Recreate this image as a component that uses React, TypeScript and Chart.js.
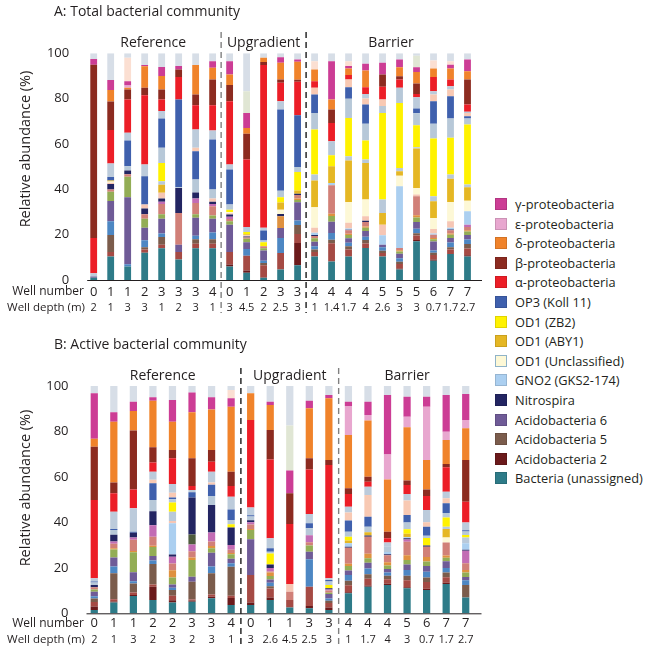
import { useEffect, useRef } from "react";
import { Chart, registerables } from "chart.js";
Chart.register(...registerables);

// ---------- categories ----------
const wellA = ["0","1","1","2","3","3","3","4","0","1","2","3","3","4","4","4","4","5","5","5","6","7","7"];
const depthA = ["2","1","3","3","1","2","3","1","3","4.5","2","2.5","3","1","1.4","1.7","4","2.6","3","3","0.7","1.7","2.7"];
const wellB = ["0","1","1","2","2","3","3","4","0","1","1","3","3","4","4","4","5","6","7","7"];
const depthB = ["2","1","3","2","3","2","3","1","3","2.6","4.5","2.5","3","1","1.7","4","3","0.7","1.7","2.7"];
const groupNames = ["Reference", "Upgradient", "Barrier"];
const groupEndsA = [7, 12, 22];
const groupEndsB = [7, 12, 19];
const yTicks = [0, 20, 40, 60, 80, 100];

// ---------- A: Total bacterial community (bottom -> top) ----------
const A_bact = [1,10.4,6,12,14,9,14,14,6,3.2,1,4.6,6.5,10.4,8.2,10.4,14.1,10.4,4.6,17.1,8.5,11.5,10.4];
const A_ac2 = [0,0,0,0,0,0,0,0,0.8,1,0,0,9.8,0,0,0,0,0,0.5,0.5,0.5,0,0.5];
const A_brick = [0,2,0,1.5,1.5,3.4,2,2,5.6,6.5,5.5,7.3,4,2,8,3,2,1.5,2,2,2,2,3];
const A_ac5 = [0,7.5,0,1,3.5,0,2,2,0,0,1,0,4,1,1.5,1.5,1.5,1,1,1,1,1,2];
const A_steel = [0,6,1,3,1.5,0,1.5,3,0,3,1,6.6,2,1.5,3,1.5,1.5,1.5,1.5,2,1,2,2];
const A_ac6 = [0.5,9,29.5,5.5,6.5,3.2,8,6,12,3,4.5,4.4,8,2,5,2,2.5,1.2,2,3,4,2,2];
const A_olive = [0,4,9,4,2,0,1.5,1.5,1.5,1.5,1,0,1,1.5,2.5,1.5,1.5,0,1,2,1,1.5,1.5];
const A_orangeLow = [0,0,0,0,0,0,0,0,0,0,0,5.2,0.7,0,1,0.5,0.5,0,0.5,1,0.5,0.5,0.5];
const A_salmon = [0,1,1.2,2,4.5,14,5,4,1,0.5,0.9,0,1.5,1,12.6,1.5,2,0,1,8.3,1.5,1.5,1.5];
const A_orchid = [0,0,0,0,1,0,2,1,1,0,0,0,0,0,0,0,0,0,0,0,0,0,1];
const A_darkOlive = [0,0,0,0,0,0,0,0,0,0,0,0,0,0,0,0,0,0,0,0,0,0,0];
const A_nitro = [0,2.5,1.6,2.5,1.5,11,2.6,1,1,0.5,0,1,0.5,0.5,0,0.3,0.5,0,0,0,0,0.3,0];
const A_gno2 = [0,0,0,0,0,0,0,0,0,0,0,0,0,0.9,1,0.5,0,4.1,27.3,0,0.5,0.7,5.9];
const A_peachLow = [0,0.5,0,1.8,2.5,0,0,1.5,0.5,0.5,0,0,0,2.2,0,2.5,2,4.7,0,0.8,2,2.9,0];
const A_od1u = [0,0.5,0,0,0,0,0,0,0.6,0,0,1.9,0,9.1,0,9.2,7.4,0,4.6,2.9,4.9,8.5,4.7];
const A_aby1 = [0,0.5,0,0,3.5,0,0,0,0,0.5,0,3.2,1.5,11.8,7.4,18.3,16.1,5.2,2,17.4,7.3,10.3,5.9];
const A_greyMid = [0,0,0,0,1.6,0,0,0,0,0,0,0,0,2.6,0,1.9,1.5,5.9,1.4,0.6,2.2,1.8,1.2];
const A_zb2 = [0,0,0,0,8,0,0,0,1,1,1.7,2.3,8.1,19.9,4.8,16.9,8.4,38.2,28.7,9.7,25.5,16.2,26.5];
const A_greyLow = [0,0,1.9,0,6.7,0.3,5.7,3.9,2.3,2.2,0.8,2.9,2.3,7.3,6.2,8.5,7.4,3,6.7,5.3,6.5,8.5,2.6];
const A_op3 = [0,1.5,11.3,12.5,12.9,38.7,12.5,22.1,15.4,0,4.4,35.8,22.8,8.1,0,5,8.5,0,0,2,10,9.9,1];
const A_peach = [0,0,0,0,0,0,1.5,0,0,0,0,0,0,3,0,3.4,2.7,2.9,0,0,2.9,2.9,1.5];
const A_greyblue = [1.5,6,3.5,5.2,3.3,0,8.1,4,2.2,0,1.2,3.7,0,0,0,0,1.9,0,0,5,1.5,1.5,0.5];
const A_alpha = [15.5,14.8,14.6,30.5,5.1,9.9,10.7,11.1,28,29.7,71.8,8.1,14.8,2.9,8.1,2,3,5.6,3.6,1.5,6.2,2.9,3.2];
const A_beta = [76.5,12.5,4.4,3.3,4.4,3.4,4.7,11.3,7.1,11.4,1.4,1.4,0.8,0,5.9,0,0,5.5,1.5,4.6,0,0,11];
const A_delta = [0,5.1,0.8,9.5,6,0,13,5.2,4.6,2.6,1.8,7.4,8,5.2,4.4,2.9,7.4,0,4,5.1,3.8,4.9,3.7];
const A_eps = [0,0,1,0,0,0,0,0,0,0,0,0,0,0,0,0,0,0,0,0,0,0,0];
const A_gamma = [2.5,4.4,1.9,0.5,4,1.5,0,2.9,5.9,6.6,0,2.5,1,0,16.9,1.1,3,5.1,3.4,2.1,0,1.7,5.2];
const A_greygreen = [0,0,0,0,0,0,0,0,0,9.6,0,0,0,0,0,0,0,0,0,5,0,0,0];
const A_peachTop = [0,0,10.3,0,0,0,0,0,0,0,0,0,0,3.6,0,2.1,0,0,0,0,3.5,1.5,0];
const A_top = [2.5,11.8,2,5.2,6,5.6,5.2,3.5,3.5,16.7,2,1.7,2.7,3.5,3.5,3.5,4.6,4.2,2.7,1.1,3.2,3.5,2.7];

// ---------- B: Active bacterial community (bottom -> top) ----------
const B_bact = [1.5,4.7,7.6,5.9,4.7,5.1,6.6,3.7,3.7,5.9,2.6,2.2,1.5,8.8,11.7,12.5,11,10.3,12.9,7];
const B_ac2 = [1.5,0.5,0.5,5.8,1,0.5,0.7,3,1,1,0,1,1,0.5,0.5,0.5,0.5,0.5,0.5,0];
const B_brick = [2,1,1,1,2,0.5,1,1,12.2,4,3.3,8.5,2,3,3,2,3,3,2.5,0];
const B_ac5 = [1.5,11.4,4,9,2.5,7.8,9.3,12.8,0,1,0,0,1,2,2,1.5,2,2,2,5.5];
const B_steel = [1,3,1,1.5,1,0,3,1.5,0,1.5,0,12.1,1,2.5,2.5,1.5,2.5,2.5,2,2];
const B_ac6 = [2,4,4,2,1.5,2.2,6,2,15.7,1.5,0,3.3,2,2,2.5,1.5,2.5,2.5,3,1.5];
const B_olive = [1,3.5,8.8,4,3,7.4,2,2,4,1.5,0,2.7,0.5,2,2,1.5,2,2,1.5,2];
const B_orangeLow = [0,0.5,0.5,0.5,3.2,1,1,0.5,0.5,1.5,0,0,0,1,2,1.5,2,2,1,1];
const B_salmon = [1,2,5,4,3,2.8,2,1.5,2,0.5,3.6,1.5,1,7,7.5,3,6,4.5,5.7,3];
const B_orchid = [0,1,1,5,3,3,4,2,1,1.5,0,3,0.5,0,0,0,1,0,0,5.5];
const B_darkOlive = [0,0,0,0,0,4.4,0,0,0,0,0,0,0,0,0,0,0,0,0,0];
const B_nitro = [1,3,2,6.2,1,16.3,12,7.8,0.8,1.6,0,0,0.5,0.5,0.5,0.5,0.5,0.5,0,0.5];
const B_gno2 = [0,0,0,0,13.7,0,0,0,0,0,0,0,0,1.5,0,1,0.5,0,0,2.8];
const B_peachLow = [0,0,0,0,1,0,0,0,0,0,3.4,0,0,0,0,0,0,0,0,0];
const B_od1u = [0,0,0,0,0,0,0,0,0,0,0,0,0,0,0,0,0,0,2.3,0];
const B_aby1 = [0,0,0,0,0,0,0,0,0,0,0,0,0,1.2,1.5,0,1.5,0,3.7,0];
const B_greyMid = [0,0,0,0,4.1,0,0,0,0,0,0,0,0,0,0,0,0,0,1,2.6];
const B_zb2 = [0,0,0,0,4,0,0,1.4,0,4.8,0,0,1.5,1.7,0,0,2,3.3,4.1,1.1];
const B_greyLow = [1,2,0,5,1.5,0,4,1.8,1.7,0.8,0,3.1,1.5,2.2,2.4,2.5,2.9,1,1.9,1.5];
const B_op3 = [0.5,0.5,0.5,7.3,0.8,2.3,5,4.7,0.5,1.5,0,2.2,0.6,4.9,4.4,0,3.4,4,4.3,0.5];
const B_peach = [0,0,0,1.5,2,0,1,0,0,0,0,0,0,3.5,9.6,0,6.3,2,2.2,0];
const B_greyblue = [1.4,7.6,10.3,3.6,3.9,1,4.7,5.6,3.5,4.4,0,4.1,0.8,2.6,3.6,1.6,2.9,5.4,2.9,3.4];
const B_alpha = [34.5,8.1,8.3,4,11.3,1.7,4.4,4.7,38.4,34.7,26.4,19.6,49.8,5.6,2.2,1.9,4,6.1,10.7,9.2];
const B_beta = [23.4,4.7,25.9,6.7,3.6,12.2,5.1,6.3,0,12.9,13.5,4.9,2.2,2.5,2.2,2.9,1.9,2.9,1.5,18.3];
const B_delta = [3.5,26.8,8.6,20.5,12.5,20.2,17.9,28.6,11.8,11,0,22,27.2,23.4,24.7,23,23.4,12.9,10.5,14];
const B_eps = [0,0,0,0,0,0,0,0,0,0,0,0,0,12.8,2.4,11,4.7,23.5,3.7,3.6];
const B_gamma = [20,4.2,4.1,1.5,9.5,8.7,5.3,3.7,0,1.5,10,3.3,1.4,1.9,5.9,26.1,8.8,4.4,16.1,11.5];
const B_greygreen = [0,0,0,0,0,0,0,0,0,0,19.8,0,0,0,0,0,0,0,0,0];
const B_peachTop = [0,0,0,0,0,0,0,3.6,0,0,0,0,0,0,0,0,0,0,0,0];
const B_top = [3.2,11.5,6.9,5,6.2,2.9,5,1.8,3.2,6.9,17.4,6.5,4,6.9,6.9,4,4.7,4.7,4,3.5];

// ---------- series styling (bottom -> top) ----------
const SERIES = [
  { key: "bact", label: "Bacteria (unassigned)", color: "#2e7b88" },
  { key: "ac2", label: "Acidobacteria 2", color: "#6b1a1b" },
  { key: "brick", label: "Other", color: "#a54a44" },
  { key: "ac5", label: "Acidobacteria 5", color: "#7b5c4c" },
  { key: "steel", label: "Other", color: "#4d87c3" },
  { key: "ac6", label: "Acidobacteria 6", color: "#6f5b97" },
  { key: "olive", label: "Other", color: "#93ad55" },
  { key: "orangeLow", label: "Other", color: "#df913f" },
  { key: "salmon", label: "Other", color: "#d18078" },
  { key: "orchid", label: "Other", color: "#c26cb4" },
  { key: "darkOlive", label: "Other", color: "#4f5c3e" },
  { key: "nitro", label: "Nitrospira", color: "#232562" },
  { key: "gno2", label: "GNO2 (GKS2-174)", color: "#abcff0" },
  { key: "peachLow", label: "Other", color: "#f6c6b4" },
  { key: "od1u", label: "OD1 (Unclassified)", color: "#fdf8d6" },
  { key: "aby1", label: "OD1 (ABY1)", color: "#e5b724" },
  { key: "greyMid", label: "Other", color: "#b9c9da" },
  { key: "zb2", label: "OD1 (ZB2)", color: "#fff200" },
  { key: "greyLow", label: "Other", color: "#b7c8d8" },
  { key: "op3", label: "OP3 (Koll 11)", color: "#3f60ad" },
  { key: "peach", label: "Other", color: "#f8c9b3" },
  { key: "greyblue", label: "Other", color: "#bccbdb" },
  { key: "alpha", label: "α-proteobacteria", color: "#ec1e27" },
  { key: "beta", label: "β-proteobacteria", color: "#8c2b20" },
  { key: "delta", label: "δ-proteobacteria", color: "#f0832b" },
  { key: "eps", label: "ε-proteobacteria", color: "#e8a7cf" },
  { key: "gamma", label: "γ-proteobacteria", color: "#cc3d95" },
  { key: "greygreen", label: "Other", color: "#e0e6d4" },
  { key: "peachTop", label: "Other", color: "#fbdfd2" },
  { key: "top", label: "Other", color: "#d7dee7" },
];

const DATA_A: Record<string, number[]> = {
  bact: A_bact, ac2: A_ac2, brick: A_brick, ac5: A_ac5, steel: A_steel, ac6: A_ac6, olive: A_olive,
  orangeLow: A_orangeLow, salmon: A_salmon, orchid: A_orchid, darkOlive: A_darkOlive, nitro: A_nitro,
  gno2: A_gno2, peachLow: A_peachLow, od1u: A_od1u, aby1: A_aby1, greyMid: A_greyMid, zb2: A_zb2,
  greyLow: A_greyLow, op3: A_op3, peach: A_peach, greyblue: A_greyblue, alpha: A_alpha, beta: A_beta,
  delta: A_delta, eps: A_eps, gamma: A_gamma, greygreen: A_greygreen, peachTop: A_peachTop, top: A_top,
};
const DATA_B: Record<string, number[]> = {
  bact: B_bact, ac2: B_ac2, brick: B_brick, ac5: B_ac5, steel: B_steel, ac6: B_ac6, olive: B_olive,
  orangeLow: B_orangeLow, salmon: B_salmon, orchid: B_orchid, darkOlive: B_darkOlive, nitro: B_nitro,
  gno2: B_gno2, peachLow: B_peachLow, od1u: B_od1u, aby1: B_aby1, greyMid: B_greyMid, zb2: B_zb2,
  greyLow: B_greyLow, op3: B_op3, peach: B_peach, greyblue: B_greyblue, alpha: B_alpha, beta: B_beta,
  delta: B_delta, eps: B_eps, gamma: B_gamma, greygreen: B_greygreen, peachTop: B_peachTop, top: B_top,
};

const LEGEND_KEYS = ["gamma","eps","delta","beta","alpha","op3","zb2","aby1","od1u","gno2","nitro","ac6","ac5","ac2","bact"];

const FONT = '"Open Sans", "Noto Sans", sans-serif';
const INK = "#231f20";

type Cfg = {
  title: string; titleY: number; groupY: number; yTitleY: number;
  wells: string[]; depths: string[]; groupEnds: number[];
  wellY: number; depthY: number; dashTop: number; dashBottom: number; dashColors: string[];
};

function decorPlugin(cfg: Cfg) {
  return {
    id: "decor",
    afterDraw(chart: any) {
      const ctx = chart.ctx as CanvasRenderingContext2D;
      const xs = chart.scales.x;
      const ca = chart.chartArea;
      ctx.save();
      ctx.fillStyle = INK;
      // title
      ctx.font = `14px ${FONT}`;
      ctx.textAlign = "left";
      ctx.textBaseline = "middle";
      ctx.fillText(cfg.title, 54, cfg.titleY);
      // y title
      ctx.save();
      ctx.translate(25.5, cfg.yTitleY);
      ctx.rotate(-Math.PI / 2);
      ctx.textAlign = "center";
      ctx.font = `14.5px ${FONT}`;
      ctx.fillText("Relative abundance (%)", 0, 0);
      ctx.restore();
      // group labels
      ctx.font = `14px ${FONT}`;
      ctx.textAlign = "center";
      let start = 0;
      cfg.groupEnds.forEach((end, gi) => {
        const cx = (xs.getPixelForValue(start) + xs.getPixelForValue(end)) / 2;
        ctx.fillText(groupNames[gi], cx, cfg.groupY);
        start = end + 1;
      });
      // x axis line
      ctx.strokeStyle = INK;
      ctx.lineWidth = 1;
      ctx.beginPath();
      ctx.moveTo(ca.left + 2, ca.bottom + 0.5);
      ctx.lineTo(ca.right + 6, ca.bottom + 0.5);
      ctx.stroke();
      // dashed dividers
      ctx.lineWidth = 1.4;
      ctx.setLineDash([6, 4]);
      cfg.groupEnds.slice(0, 2).forEach((end, i) => {
        const xp = (xs.getPixelForValue(end) + xs.getPixelForValue(end + 1)) / 2;
        ctx.strokeStyle = cfg.dashColors[i];
        ctx.beginPath();
        ctx.moveTo(xp, cfg.dashTop);
        ctx.lineTo(xp, cfg.dashBottom);
        ctx.stroke();
      });
      ctx.setLineDash([]);
      // well rows
      ctx.fillStyle = INK;
      ctx.textAlign = "right";
      ctx.font = `12px ${FONT}`;
      ctx.fillText("Well number", 84, cfg.wellY);
      ctx.font = `11.5px ${FONT}`;
      ctx.fillText("Well depth (m)", 85, cfg.depthY);
      ctx.textAlign = "center";
      ctx.font = `13px ${FONT}`;
      cfg.wells.forEach((w, i) => ctx.fillText(w, xs.getPixelForValue(i), cfg.wellY));
      ctx.font = `11px ${FONT}`;
      cfg.depths.forEach((d, i) => ctx.fillText(d, xs.getPixelForValue(i), cfg.depthY));
      ctx.restore();
    },
  };
}

function makeChart(canvas: HTMLCanvasElement, data: Record<string, number[]>, cfg: Cfg, pad: any, yWidth: number, barPct: number) {
  const labels = cfg.wells.map((w, i) => `${w} (${cfg.depths[i]} m)`);
  return new Chart(canvas, {
    type: "bar",
    data: {
      labels,
      datasets: SERIES.map((s) => ({
        label: s.label,
        data: data[s.key],
        backgroundColor: s.color,
        borderWidth: 0,
        barPercentage: barPct,
        categoryPercentage: 1,
        stack: "s",
      })),
    },
    options: {
      responsive: false,
      maintainAspectRatio: false,
      animation: false,
      layout: { padding: pad },
      plugins: { legend: { display: false }, tooltip: { enabled: false }, title: { display: false } },
      scales: {
        x: {
          stacked: true,
          grid: { display: false, drawTicks: false },
          border: { display: false },
          ticks: { display: false },
          afterFit: (axis: any) => { axis.height = 0; },
        },
        y: {
          stacked: true,
          min: 0,
          max: 100,
          afterBuildTicks: (axis: any) => { axis.ticks = yTicks.map((v) => ({ value: v })); },
          grid: { display: false, drawTicks: false },
          border: { display: false },
          ticks: { color: INK, padding: 16, font: { family: FONT, size: 13 } },
          afterFit: (axis: any) => { axis.width = yWidth; },
        },
      },
    },
    plugins: [decorPlugin(cfg)],
  } as any);
}

export default function App() {
  const refA = useRef<HTMLCanvasElement>(null);
  const refB = useRef<HTMLCanvasElement>(null);

  useEffect(() => {
    const cA = makeChart(
      refA.current!,
      DATA_A,
      {
        title: "A: Total bacterial community", titleY: 12, groupY: 43, yTitleY: 149,
        wells: wellA, depths: depthA, groupEnds: groupEndsA,
        wellY: 292, depthY: 308, dashTop: 32, dashBottom: 313, dashColors: ["#808080", "#1a1a1a"],
      },
      { left: 0, top: 53.3, right: 14, bottom: 45 },
      85.2,
      0.4
    );
    const cB = makeChart(
      refB.current!,
      DATA_B,
      {
        title: "B: Active bacterial community", titleY: 15, groupY: 46, yTitleY: 158,
        wells: wellB, depths: depthB, groupEnds: groupEndsB,
        wellY: 293.3, depthY: 310, dashTop: 38, dashBottom: 317, dashColors: ["#1a1a1a", "#808080"],
      },
      { left: 0, top: 56, right: 14.5, bottom: 34.7 },
      84.5,
      0.37
    );
    return () => { cA.destroy(); cB.destroy(); };
  }, []);

  const legendItems = LEGEND_KEYS.map((k) => SERIES.find((s) => s.key === k)!);

  return (
    <div style={{ position: "absolute", left: 0, top: 0, width: 650, height: 648, background: "#fff", overflow: "hidden" }}>
      <canvas ref={refA} width={490} height={325} style={{ position: "absolute", left: 0, top: 0, width: 490, height: 325 }} />
      <canvas ref={refB} width={490} height={318} style={{ position: "absolute", left: 0, top: 330, width: 490, height: 318 }} />
      <div style={{ position: "absolute", left: 495, top: 194.2, fontFamily: FONT, fontSize: 12.8, color: INK }}>
        {legendItems.map((s) => (
          <div key={s.key} style={{ height: 19.6, display: "flex", alignItems: "center", whiteSpace: "nowrap" }}>
            <span
              style={{
                display: "inline-block",
                width: 12,
                height: 12,
                boxSizing: "border-box",
                background: s.color,
                border: s.key === "od1u" ? "1px solid #8fb3c8" : "1px solid rgba(0,0,0,0.12)",
                marginRight: 8,
              }}
            />
            <span>{s.label}</span>
          </div>
        ))}
      </div>
    </div>
  );
}
